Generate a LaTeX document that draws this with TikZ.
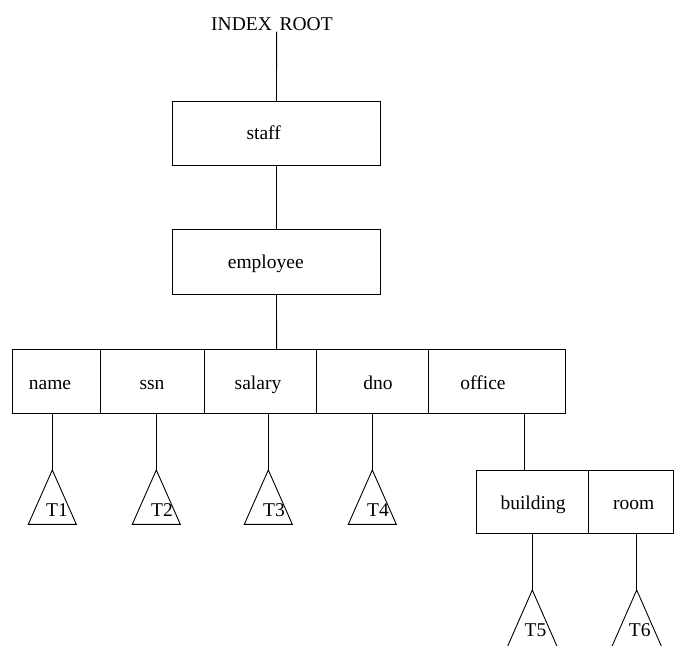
\documentclass[tikz,border=0pt]{standalone}
\usepackage{fontspec}
\setmainfont{Liberation Serif}
\begin{document}
\begin{tikzpicture}[x=1pt,y=-1pt,line width=0.9pt,
  cell/.style={draw,inner sep=0pt,outer sep=0pt,minimum height=63.5pt},
  txt/.style={font=\fontsize{19.5}{23}\selectfont,anchor=base,inner sep=0pt},
  tri/.style={draw,line join=miter}]
\useasboundingbox (0,0) rectangle (674,645);
% root
\node[txt] (root) at (272,30.7) {INDEX\kern0.4em ROOT};
\coordinate (rootfoot) at (276.6,31.7);
% staff and employee boxes
\node[cell,minimum width=208.4pt,minimum height=64pt] (staff) at (276.5,133.7) {};
\node[txt] (stafft) at (263.7,139) {staff};
\node[cell,minimum width=208.4pt,minimum height=64.7pt] (employee) at (276.5,261.65) {};
\node[txt] (employeet) at (265.8,268.3) {employee};
% row of attributes
\node[cell,minimum width=88pt] (name) at (56.3,381.65) {};
\node[cell,minimum width=104pt] (ssn) at (152.3,381.65) {};
\node[cell,minimum width=112pt] (salary) at (260.3,381.65) {};
\node[cell,minimum width=112pt] (dno) at (372.3,381.65) {};
\node[cell,minimum width=136.7pt] (office) at (496.65,381.65) {};
\node[txt] (namet) at (50,389) {name};
\node[txt] (ssnt) at (152,389) {ssn};
\node[txt] (salaryt) at (258,389) {salary};
\node[txt] (dnot) at (378,389) {dno};
\node[txt] (officet) at (483,389) {office};
% building / room
\node[cell,minimum width=111.6pt] (building) at (532.5,501.9) {};
\node[cell,minimum width=85pt] (room) at (630.8,501.9) {};
\node[txt] (buildingt) at (533,509.5) {building};
\node[txt] (roomt) at (633.7,509.5) {room};
% apex coordinates
\coordinate (a1) at (52.3,470);
\coordinate (a2) at (156.3,470);
\coordinate (a3) at (268.3,470);
\coordinate (a4) at (372.3,470);
\coordinate (a5) at (532.3,590);
\coordinate (a6) at (636.7,590);
\coordinate (ob) at (524.3,470);
\coordinate (es) at (276.6,350);
% connectors
\draw (rootfoot) -- (staff.north);
\draw (staff.south) -- (employee.south |- employee.north);
\draw (employee.south) -- (es);
\draw (name.south -| a1) -- (a1);
\draw (ssn.south -| a2) -- (a2);
\draw (salary.south -| a3) -- (a3);
\draw (dno.south -| a4) -- (a4);
\draw (office.south -| ob) -- (ob);
\draw (building.south -| a5) -- (a5);
\draw (room.south -| a6) -- (a6);
% triangles
\foreach \a in {a1,a2,a3,a4}{
  \draw[tri] (\a) -- ++(-24,54.3) -- ++(48,0) -- cycle;
}
\foreach \a in {a5,a6}{
  \draw[tri] (\a) -- ++(-25,57) -- ++(50,0) -- cycle;
}
\node[txt] (t1) at (57,516.7) {T1};
\node[txt] (t2) at (162,516.7) {T2};
\node[txt] (t3) at (274,516.7) {T3};
\node[txt] (t4) at (378,516.7) {T4};
\node[txt] (t5) at (535.5,636.7) {T5};
\node[txt] (t6) at (639.7,636.7) {T6};
\end{tikzpicture}
\end{document}
